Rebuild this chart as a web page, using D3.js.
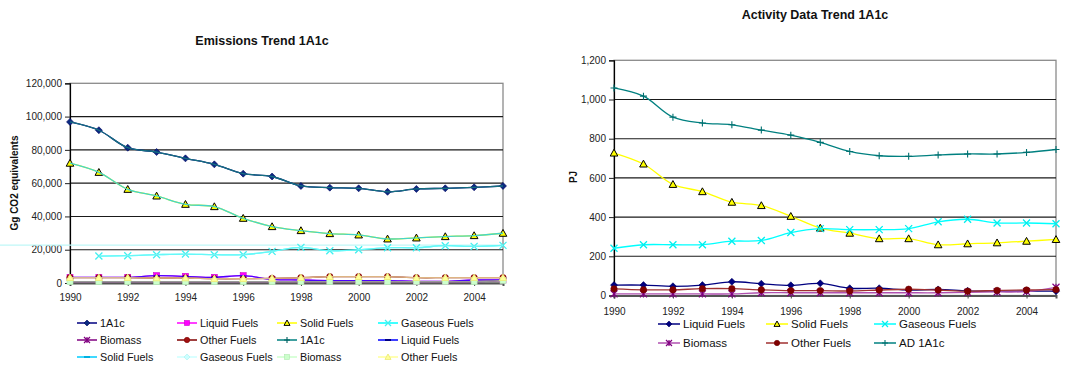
<!DOCTYPE html>
<html><head><meta charset="utf-8">
<script src="https://cdn.jsdelivr.net/npm/d3@7"></script>
<style>body{margin:0;background:#fff}svg{display:block;font-family:"Liberation Sans",Arial,sans-serif}</style>
</head><body><svg id="c" width="1070" height="368"></svg>
<script>
const years = [1990,1991,1992,1993,1994,1995,1996,1997,1998,1999,2000,2001,2002,2003,2004,2005];
const xTickYears = [1990,1992,1994,1996,1998,2000,2002,2004];
// Emissions (Gg CO2 eq)
const emTicks = [0,20000,40000,60000,80000,100000,120000];
const em1A1c   = [96800,91800,81300,78700,74900,71300,65700,64000,58300,57300,56900,54800,56500,56900,57500,58300];
const emLiquid = [3400,3400,3400,4400,4000,3400,4400,2200,1800,1400,1400,1400,1000,1000,1800,1800];
const emSolid  = [72000,66500,56300,52300,47300,45900,38900,33900,31500,29700,28900,26500,27100,27900,28500,29900];
const emGas    = [null,16200,16400,17000,17400,17000,17000,19000,21400,19400,20000,21200,21200,22400,22000,22600];
const emBio    = [800,800,800,800,800,800,800,800,800,800,800,800,800,800,800,1500];
const emOther  = [3200,3200,3200,3000,3000,2600,2600,2800,3200,3800,3800,3800,3200,3200,3200,3200];
const emRefLine = 22800;
// Activity data (PJ)
const adTicks = [0,200,400,600,800,1000,1200];
const adLiquid = [53,53,47,53,70,60,52,62,37,37,28,31,24,22,23,22];
const adSolid  = [727,671,567,530,476,459,404,344,318,290,290,259,264,269,277,286];
const adGas    = [241,259,259,259,277,281,321,341,336,336,341,376,389,370,370,366];
const adBio    = [8,8,8,8,8,14,14,14,14,14,14,14,16,18,20,42];
const adOther  = [34,29,29,35,35,29,25,25,23,28,32,28,22,26,28,30];
const ad1A1c   = [1059,1017,910,880,871,844,818,781,735,713,710,717,722,722,730,745];

const svg = d3.select('#c');

function marker(g, type, x, y, fill, stroke, s) {
  s = s || 3.5;
  if (type === 'diamond') g.append('path').attr('d', `M${x},${y-s}L${x+s},${y}L${x},${y+s}L${x-s},${y}Z`).attr('fill', fill).attr('stroke', stroke).attr('stroke-width', 0.6);
  else if (type === 'square') g.append('rect').attr('x', x-s+0.5).attr('y', y-s+0.5).attr('width', 2*s-1).attr('height', 2*s-1).attr('fill', fill).attr('stroke', stroke).attr('stroke-width', 0.6);
  else if (type === 'triangle') g.append('path').attr('d', `M${x},${y-s}L${x+s},${y+s*0.8}L${x-s},${y+s*0.8}Z`).attr('fill', fill).attr('stroke', stroke).attr('stroke-width', 1);
  else if (type === 'circle') g.append('circle').attr('cx', x).attr('cy', y).attr('r', s-0.3).attr('fill', fill).attr('stroke', stroke).attr('stroke-width', 0.6);
  else if (type === 'x') g.append('path').attr('d', `M${x-s},${y-s}L${x+s},${y+s}M${x-s},${y+s}L${x+s},${y-s}`).attr('stroke', stroke).attr('stroke-width', 1.3);
  else if (type === 'asterisk') g.append('path').attr('d', `M${x-s},${y-s}L${x+s},${y+s}M${x-s},${y+s}L${x+s},${y-s}M${x},${y-s}L${x},${y+s}`).attr('stroke', stroke).attr('stroke-width', 1.2);
  else if (type === 'plus') g.append('path').attr('d', `M${x-s},${y}L${x+s},${y}M${x},${y-s}L${x},${y+s}`).attr('stroke', stroke).attr('stroke-width', 1.1);
  else if (type === 'dash') g.append('path').attr('d', `M${x-s},${y}L${x+s},${y}`).attr('stroke', stroke).attr('stroke-width', 2);
}

function chart(cfg) {
  const g = svg.append('g');
  const x = d3.scaleLinear().domain([1990, 2005]).range([cfg.x0, cfg.x1]);
  const y = d3.scaleLinear().domain([0, cfg.ticks[cfg.ticks.length-1]]).range([cfg.y0, cfg.y1]);
  g.append('rect').attr('x', cfg.x0).attr('y', cfg.y1).attr('width', cfg.x1-cfg.x0).attr('height', cfg.y0-cfg.y1).attr('fill', '#fff').attr('stroke', '#8a8a8a').attr('stroke-width', 1.3);
  g.selectAll('.grid').data(cfg.ticks.slice(1, -1)).join('line')
    .attr('x1', cfg.x0).attr('x2', cfg.x1).attr('y1', d => y(d)).attr('y2', d => y(d))
    .attr('stroke', '#1a1a1a').attr('stroke-width', 1.1);
  const ya = g.append('g').attr('transform', `translate(${cfg.x0},0)`)
    .call(d3.axisLeft(y).tickValues(cfg.ticks).tickFormat(d3.format(',')).tickSize(5).tickPadding(3));
  ya.select('.domain').attr('stroke', '#000').attr('stroke-width', 1.2);
  ya.selectAll('text').attr('font-size', 10).attr('fill', '#222').attr('font-family', '"Liberation Sans",Arial,sans-serif');
  ya.selectAll('line').attr('stroke', '#222');
  const xa = g.append('g').attr('transform', `translate(0,${cfg.y0})`)
    .call(d3.axisBottom(x).tickValues(xTickYears).tickFormat(d3.format('d')).tickSize(3).tickPadding(cfg.xpad));
  xa.select('.domain').attr('stroke', '#555').attr('stroke-width', 2);
  xa.selectAll('text').attr('font-size', 10).attr('fill', '#222').attr('font-family', '"Liberation Sans",Arial,sans-serif');
  xa.selectAll('line').attr('stroke', '#444');
  if (cfg.refLine != null) {
    g.append('line').attr('x1', 0).attr('x2', cfg.x1).attr('y1', y(cfg.refLine)).attr('y2', y(cfg.refLine)).attr('stroke', '#bff7f7').attr('stroke-width', 1.2);
  }
  const line = d3.line().defined(d => d[1] != null).x(d => x(d[0])).y(d => y(d[1])).curve(d3.curveCatmullRom.alpha(0.5));
  cfg.series.forEach(s => {
    const pts = years.map((yr, i) => [yr, s.values[i]]);
    g.append('path').attr('d', line(pts)).attr('fill', 'none').attr('stroke', s.line).attr('stroke-width', s.w || 1.3).attr('opacity', s.op || 1);
    if (s.plotMarker !== false) {
      const mg = g.append('g');
      pts.forEach(p => { if (p[1] != null) marker(mg, s.marker, x(p[0]), y(p[1]), s.mfill, s.mstroke, s.ms); });
    }
  });
  svg.append('text').attr('x', cfg.titleX).attr('y', cfg.titleY).attr('text-anchor', 'middle').attr('font-weight', 'bold').attr('font-size', 12.5).attr('fill', '#111').text(cfg.title);
  svg.append('text').attr('transform', `translate(${cfg.ylabX},${cfg.ylabY}) rotate(-90)`).attr('text-anchor', 'middle').attr('font-weight', 'bold').attr('font-size', 10).attr('fill', '#111').text(cfg.ylab);
  cfg.series.forEach((s, i) => {
    const col = i % cfg.legCols, row = Math.floor(i / cfg.legCols);
    const lx = cfg.legX[col], ly = cfg.legY[row];
    const lg = svg.append('g');
    lg.append('line').attr('x1', lx).attr('x2', lx + cfg.legLen).attr('y1', ly).attr('y2', ly).attr('stroke', s.legLine || s.line).attr('stroke-width', 1.5);
    marker(lg, s.marker, lx + cfg.legLen/2, ly, s.mfill, s.mstroke, 3);
    lg.append('text').attr('x', lx + cfg.legLen + 3).attr('y', ly + 4).attr('font-size', cfg.legFont).attr('fill', '#111').text(s.name);
  });
}

chart({
  x0: 70, x1: 503, y0: 283, y1: 83.3, ticks: emTicks, xpad: 8,
  title: 'Emissions Trend 1A1c', titleX: 262, titleY: 45,
  ylab: 'Gg CO2 equivalents', ylabX: 18, ylabY: 183, refLine: emRefLine,
  legCols: 4, legX: [77, 177, 277, 378], legY: [323, 340, 357], legLen: 20, legFont: 10.8,
  series: [
    {name:'1A1c', values: em1A1c, line:'#000080', marker:'diamond', mfill:'#0a2a80', mstroke:'#000060'},
    {name:'Liquid Fuels', values: emLiquid, line:'#ff00ff', marker:'square', mfill:'#ff00ff', mstroke:'#cc00cc'},
    {name:'Solid Fuels', values: emSolid, line:'#ffff00', marker:'triangle', mfill:'#ffff00', mstroke:'#000', ms:3.8},
    {name:'Gaseous Fuels', values: emGas, line:'#00ffff', marker:'x', mfill:'none', mstroke:'#40f0f0'},
    {name:'Biomass', values: emBio, line:'#800080', marker:'asterisk', mfill:'none', mstroke:'#800080', plotMarker:false},
    {name:'Other Fuels', values: emOther, line:'#800000', marker:'circle', mfill:'#a01010', mstroke:'#800000'},
    {name:'1A1c', values: em1A1c, line:'#157080', legLine:'#008080', marker:'plus', mfill:'none', mstroke:'#006060', plotMarker:false},
    {name:'Liquid Fuels', values: emLiquid, line:'#0000ff', marker:'dash', mfill:'none', mstroke:'#000080', plotMarker:false, op:0.7},
    {name:'Solid Fuels', values: emSolid, line:'#45d4cc', legLine:'#00ccff', marker:'dash', mfill:'none', mstroke:'#00b0e0', plotMarker:false},
    {name:'Gaseous Fuels', values: emGas, line:'#aaf4f4', legLine:'#ccffff', marker:'diamond', mfill:'#ccffff', mstroke:'#aaf0f0', plotMarker:false, op:0.6},
    {name:'Biomass', values: emBio, line:'#999999', legLine:'#ccffcc', marker:'square', mfill:'#ccffcc', mstroke:'#b0e8b0'},
    {name:'Other Fuels', values: emOther, line:'#e8c890', legLine:'#ffff99', marker:'triangle', mfill:'#ffff99', mstroke:'#eeee80', op:0.9}
  ]
});

chart({
  x0: 614, x1: 1056, y0: 295.5, y1: 60.3, ticks: adTicks, xpad: 9,
  title: 'Activity Data Trend 1A1c', titleX: 815, titleY: 19,
  ylab: 'PJ', ylabX: 577, ylabY: 177, refLine: null,
  legCols: 3, legX: [658, 766, 874], legY: [324, 343], legLen: 22, legFont: 11.5,
  series: [
    {name:'Liquid Fuels', values: adLiquid, line:'#000080', marker:'diamond', mfill:'#000080', mstroke:'#000060'},
    {name:'Solid Fuels', values: adSolid, line:'#ffff00', marker:'triangle', mfill:'#ffff00', mstroke:'#000', ms:3.8},
    {name:'Gaseous Fuels', values: adGas, line:'#00ffff', marker:'x', mfill:'none', mstroke:'#00eeee'},
    {name:'Biomass', values: adBio, line:'#b050b0', marker:'asterisk', mfill:'none', mstroke:'#800080'},
    {name:'Other Fuels', values: adOther, line:'#a03030', marker:'circle', mfill:'#800000', mstroke:'#700000'},
    {name:'AD 1A1c', values: ad1A1c, line:'#008080', marker:'plus', mfill:'none', mstroke:'#007070'}
  ]
});
</script></body></html>
